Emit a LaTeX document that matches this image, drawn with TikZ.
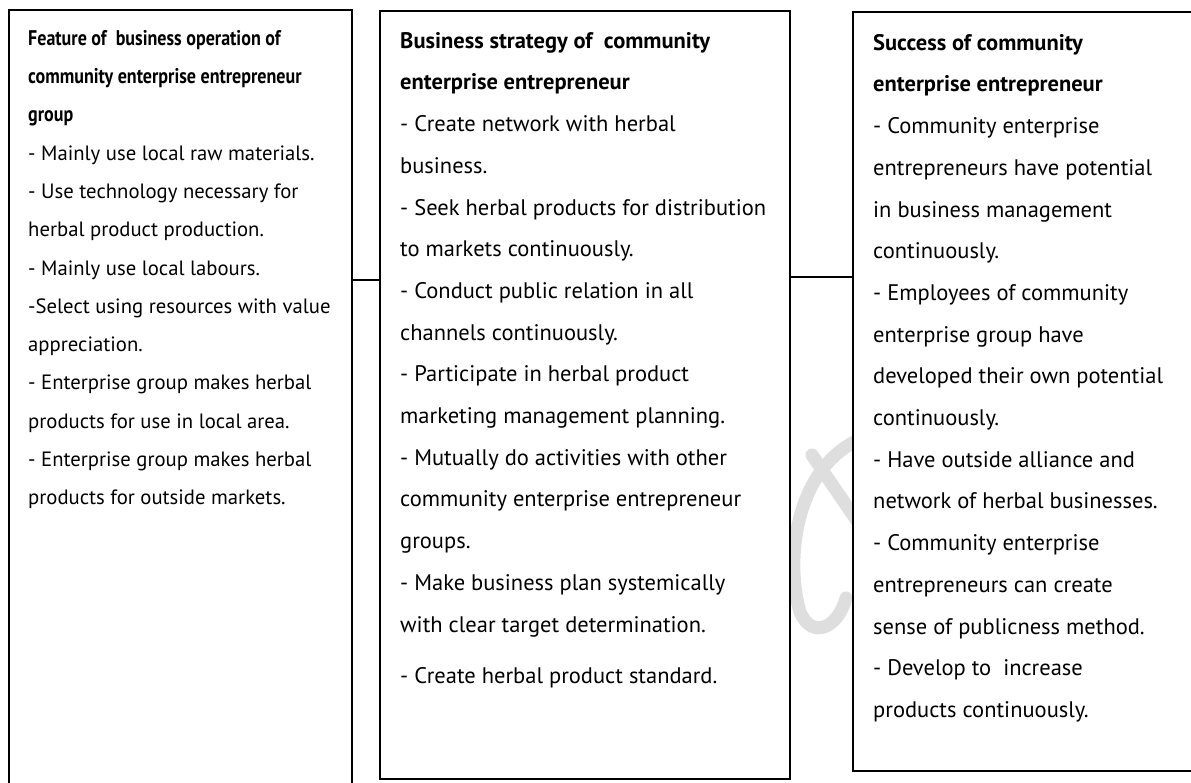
\documentclass[tikz,border=0pt]{standalone}
\usepackage{fontspec}
\setmainfont{PT Sans}
\newfontfamily\narrowfont[FakeStretch=0.85]{PT Sans}

\begin{document}
\begin{tikzpicture}[x=1pt,y=-1pt,
    box/.style = {draw, line width=1.5pt, fill=white, anchor=north west, inner sep=0pt},
    txt/.style = {anchor=north west, align=left, inner sep=0pt},
    link/.style = {line width=1.5pt}]
    \useasboundingbox (0,0) rectangle (1191,782);
    % faint mark showing through the gap
    \draw[black!13, line width=13pt, line cap=round] (812,455) -- (870,540);
    \draw[black!13, line width=13pt, line cap=round] (858,440) .. controls (795,470) and (785,560) .. (800,612) .. controls (812,640) and (838,628) .. (846,598);
    % boxes
    \node[box, minimum width=343, minimum height=800] (feature) at (8,9) {};
    \node[box, minimum width=410, minimum height=768] (strategy) at (379,10) {};
    \node[box, minimum width=360, minimum height=759] (success) at (852,11) {};
    % links
    \coordinate (l1) at (0,280);
    \coordinate (l2) at (0,277);
    \draw[link] (feature.east |- l1) -- (strategy.west |- l1);
    \draw[link] (strategy.east |- l2) -- (success.west |- l2);
    % texts
    \node[txt, font=\fontsize{20.7}{38.3}\selectfont] (featuretext) at (28,18.2) {\strut{\narrowfont\bfseries\fontsize{21.2}{38.3}\selectfont Feature of~ business operation of}\\
        {\narrowfont\bfseries\fontsize{21.2}{38.3}\selectfont community enterprise entrepreneur}\\
        {\narrowfont\bfseries\fontsize{21.2}{38.3}\selectfont group}\\
        - Mainly use local raw materials.\\
        - Use technology necessary for\\
        herbal product production.\\
        - Mainly use local labours.\\
        -Select using resources with value\\
        appreciation.\\
        - Enterprise group makes herbal\\
        products for use in local area.\\
        - Enterprise group makes herbal\\
        products for outside markets.};
    \node[txt, font=\fontsize{22.5}{41.7}\selectfont] (strategytext) at (400,18.8) {\strut{\bfseries Business strategy of~ community}\\
        {\bfseries enterprise entrepreneur}\\
        - Create network with herbal\\
        business.\\
        - Seek herbal products for distribution\\
        to markets continuously.\\
        - Conduct public relation in all\\
        channels continuously.\\
        - Participate in herbal product\\
        marketing management planning.\\
        - Mutually do activities with other\\
        community enterprise entrepreneur\\
        groups.\\
        - Make business plan systemically\\
        with clear target determination.\\[10pt]
        - Create herbal product standard.};
    \node[txt, font=\fontsize{22.5}{41.7}\selectfont] (successtext) at (873,20.8) {\strut{\bfseries Success of community}\\
        {\bfseries enterprise entrepreneur}\\
        - Community enterprise\\
        entrepreneurs have potential\\
        in business management\\
        continuously.\\
        - Employees of community\\
        enterprise group have\\
        developed their own potential\\
        continuously.\\
        - Have outside alliance and\\
        network of herbal businesses.\\
        - Community enterprise\\
        entrepreneurs can create\\
        sense of publicness method.\\
        - Develop to~ increase\\
        products continuously.};
\end{tikzpicture}
\end{document}
